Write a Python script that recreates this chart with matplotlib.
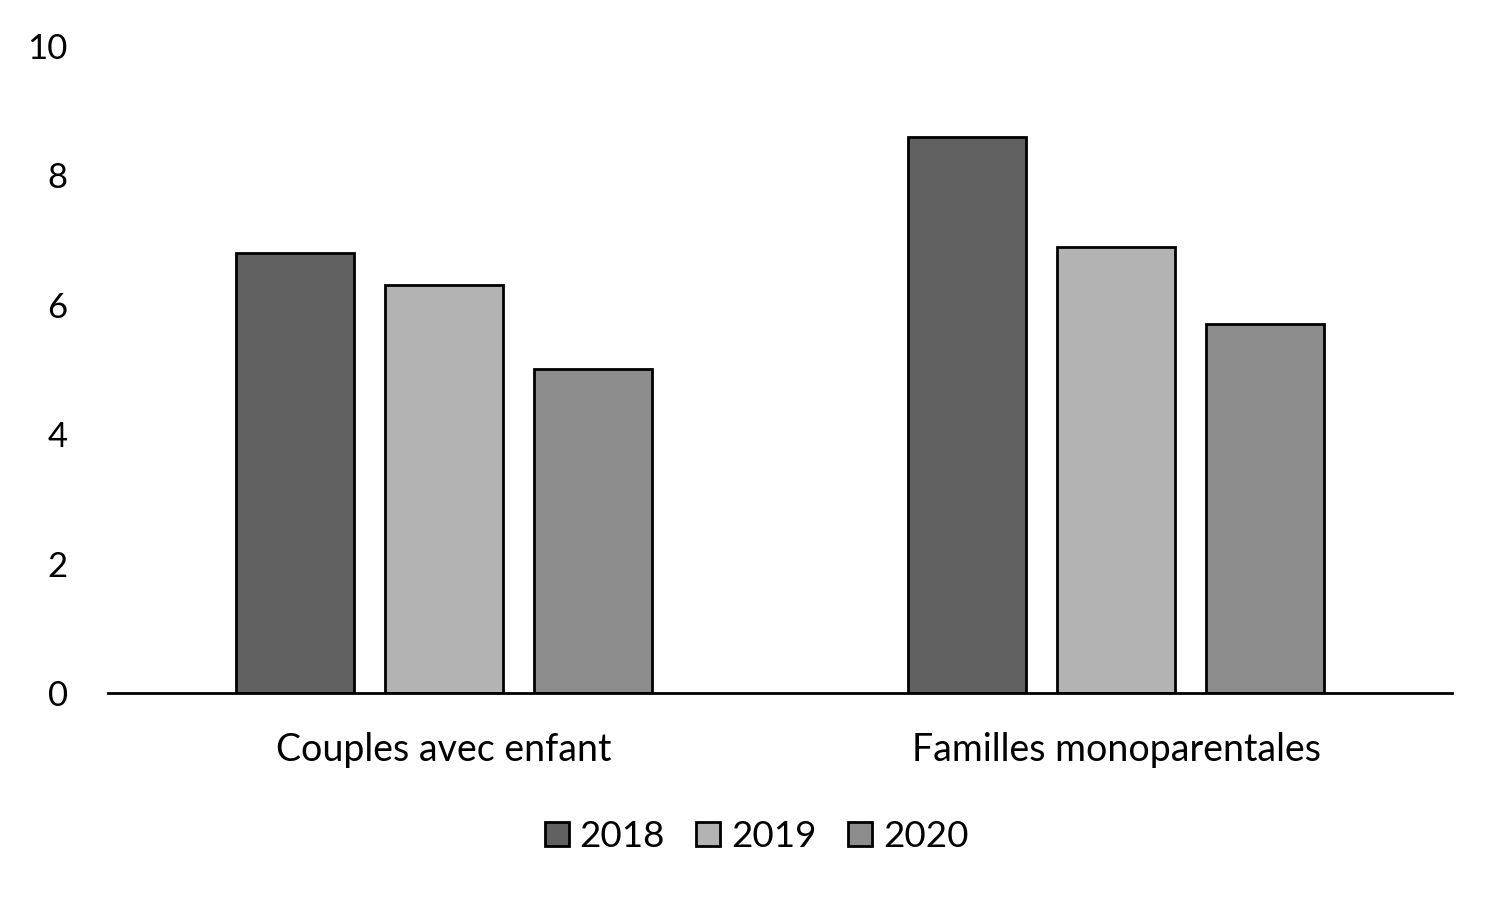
import matplotlib
matplotlib.use('Agg')
import matplotlib.pyplot as plt
import numpy as np

categories = ['Couples avec enfant', 'Familles monoparentales']
years = ['2018', '2019', '2020']
values_2018 = [6.8, 8.6]
values_2019 = [6.3, 6.9]
values_2020 = [5.0, 5.7]
colors = ['#616161', '#b3b3b3', '#8c8c8c']

plt.rcParams['font.family'] = ['Lato', 'DejaVu Sans']

fig = plt.figure(figsize=(15, 9), dpi=100)
ax = fig.add_axes([0.072, 0.23, 0.896, 0.7189])

x = np.arange(len(categories))
width = 0.1756
step = 0.2217
for k, (vals, lab) in enumerate(zip([values_2018, values_2019, values_2020], years)):
    ax.bar(x + (k - 1) * step, vals, width, color=colors[k], edgecolor='black',
           linewidth=2, label=lab, zorder=2)

ax.set_xlim(-0.5, 1.5)
ax.set_ylim(0, 10)
ax.set_yticks([0, 2, 4, 6, 8, 10])
ax.set_xticks(x)
ax.set_xticklabels(categories)
ax.tick_params(axis='y', length=0, labelsize=25, pad=29)
ax.tick_params(axis='x', length=0, labelsize=27, pad=28)
for s in ['top', 'right', 'left']:
    ax.spines[s].set_visible(False)
ax.spines['bottom'].set_linewidth(2)
ax.spines['bottom'].set_zorder(3)

leg = ax.legend(loc='upper center', bbox_to_anchor=(0.4825, -0.145), ncol=3, frameon=False,
                fontsize=26.5, handlelength=0.65, handleheight=0.65, handletextpad=0.3,
                columnspacing=0.85)

fig.savefig('out.png', dpi=100)
